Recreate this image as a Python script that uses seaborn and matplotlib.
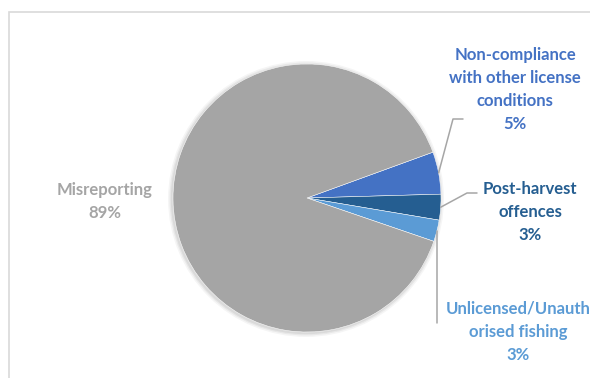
import matplotlib.pyplot as plt
import seaborn as sns
import numpy as np
from matplotlib.patches import Rectangle, Circle

# slices drawn clockwise starting just above 3 o'clock
categories = ['Non-compliance with other license conditions',
              'Post-harvest offences',
              'Unlicensed/Unauthorised fishing',
              'Misreporting']
label_lines = [['Non-compliance', 'with other license', 'conditions'],
               ['Post-harvest', 'offences'],
               ['Unlicensed/Unauth', 'orised fishing'],
               ['Misreporting']]
shares = [5.1, 3.1, 2.6, 89.2]
colors = ['#4472C4', '#255E91', '#5B9BD5', '#A5A5A5']

sns.set_theme(style='white')
plt.rcParams['font.family'] = ['Lato', 'DejaVu Sans']

W, H = 590, 378
fig = plt.figure(figsize=(W / 100, H / 100), dpi=100)
ax = fig.add_axes([0, 0, 1, 1])

cx, cy, r = 307, H - 198, 134
# faint shadow like the Excel original
for k, a in [(4, 0.04), (2.5, 0.05), (1.2, 0.06)]:
    ax.add_patch(Circle((cx - 1, cy - 1), r + k, color='black', alpha=a, lw=0))
wedges, _ = ax.pie(shares, colors=colors, startangle=20, counterclock=False,
                   center=(cx, cy), radius=r,
                   wedgeprops=dict(linewidth=0.35, edgecolor='white'))

ax.set_xlim(0, W)
ax.set_ylim(0, H)
ax.set_aspect('equal')
ax.axis('off')

# chart frame (cut off on right and bottom in the original)
ax.add_patch(Rectangle((9, -10), W + 20, H - 12 + 10, fill=False,
                       edgecolor='#D9D9D9', lw=1.2))

# label placement: (center x, first line y from top)
label_pos = [(515, 55), (530, 189), (518, 309), (105, 190)]
step = 23
for lines, share, col, (lx, ly) in zip(label_lines, shares, colors, label_pos):
    texts = lines + [f'{round(share)}%']
    for i, t in enumerate(texts):
        ax.text(lx, H - (ly + i * step), t, ha='center', va='center',
                fontsize=12, fontweight='bold', color=col)

# leader lines from the wedge edges
lead = '#A6A6A6'
pts = []
for w in wedges[:3]:
    th = np.deg2rad((w.theta1 + w.theta2) / 2)
    pts.append((cx + r * np.cos(th), cy + r * np.sin(th)))

(x0, y0), (x1, y1), (x2, y2) = pts
ax.plot([x0, 453, 463], [y0, H - 119, H - 119], color=lead, lw=1.1)
ax.plot([x1, 467, 477], [y1, H - 193, H - 193], color=lead, lw=1.1)
ax.plot([x2, x2], [y2, H - 323], color=lead, lw=1.1)

plt.savefig('out.png', dpi=100)
